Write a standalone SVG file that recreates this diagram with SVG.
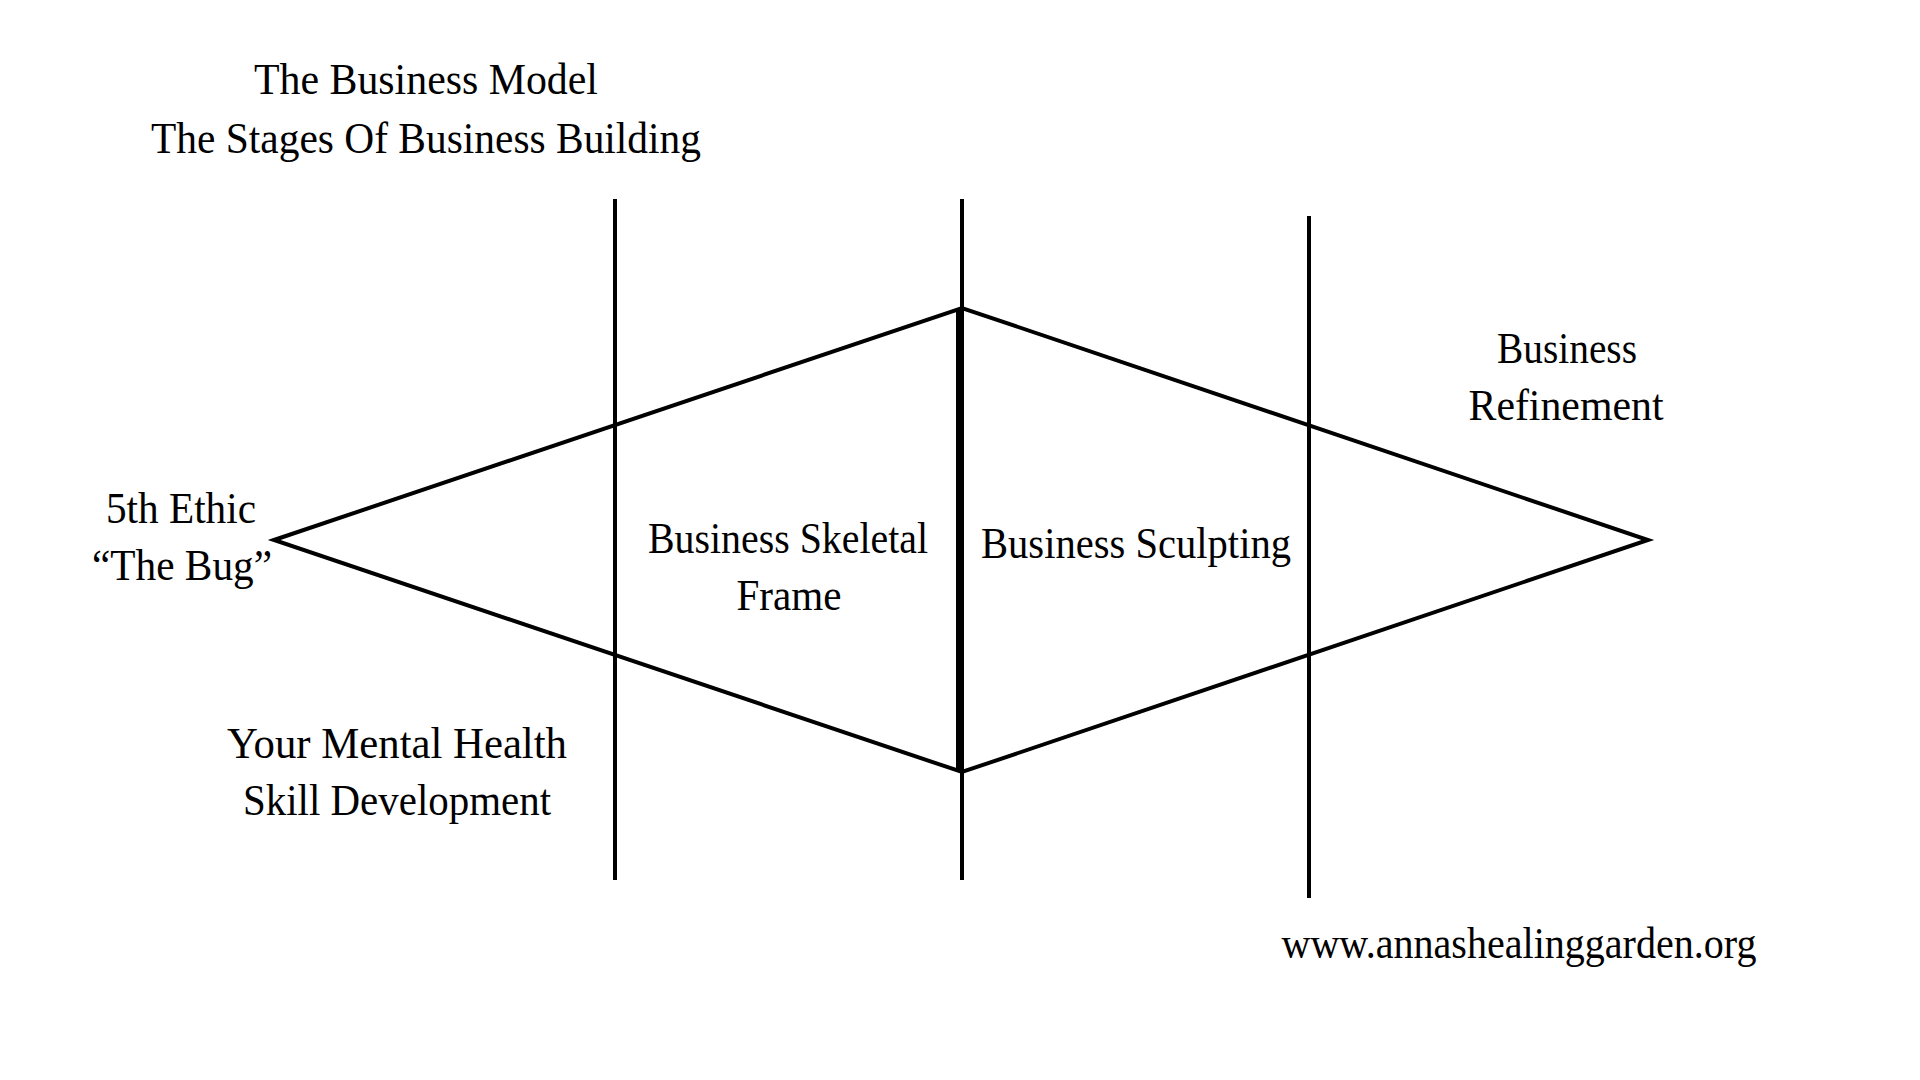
<svg xmlns="http://www.w3.org/2000/svg" width="1920" height="1080" viewBox="0 0 1920 1080">
<style>
  .t { font-family: "Liberation Serif", "DejaVu Serif", serif; font-size: 44px; fill: #000; text-anchor: middle; }
  .ln { stroke: #000; stroke-width: 4; fill: none; }
  .thick { stroke: #000; stroke-width: 8; fill: none; }
</style>
<rect x="0" y="0" width="1920" height="1080" fill="#fff"/>
<g id="connectors">
  <line class="ln" x1="615" y1="199" x2="615" y2="880"/>
  <line class="ln" x1="962" y1="199" x2="962" y2="880"/>
  <line class="ln" x1="1309" y1="216" x2="1309" y2="898"/>
  <polygon class="ln" points="274,540 962,308 1648,540 962,772" stroke-linejoin="miter"/>
  <line class="thick" x1="960" y1="308" x2="960" y2="772"/>
</g>
<g id="title">
  <text class="t" x="426" y="94" textLength="344" lengthAdjust="spacingAndGlyphs">The Business Model</text>
  <text class="t" x="426" y="153" textLength="550" lengthAdjust="spacingAndGlyphs">The Stages Of Business Building</text>
</g>
<g id="node-ethic">
  <text class="t" x="181" y="523" textLength="150" lengthAdjust="spacingAndGlyphs">5th Ethic</text>
  <text class="t" x="182" y="580" textLength="180" lengthAdjust="spacingAndGlyphs">“The Bug”</text>
</g>
<g id="node-skeletal">
  <text class="t" x="788" y="553" textLength="280" lengthAdjust="spacingAndGlyphs">Business Skeletal</text>
  <text class="t" x="789" y="610" textLength="105" lengthAdjust="spacingAndGlyphs">Frame</text>
</g>
<g id="node-sculpting">
  <text class="t" x="1136" y="558" textLength="310" lengthAdjust="spacingAndGlyphs">Business Sculpting</text>
</g>
<g id="node-refinement">
  <text class="t" x="1567" y="363" textLength="140" lengthAdjust="spacingAndGlyphs">Business</text>
  <text class="t" x="1566" y="420" textLength="195" lengthAdjust="spacingAndGlyphs">Refinement</text>
</g>
<g id="node-mental">
  <text class="t" x="397" y="758" textLength="340" lengthAdjust="spacingAndGlyphs">Your Mental Health</text>
  <text class="t" x="397" y="815" textLength="308" lengthAdjust="spacingAndGlyphs">Skill Development</text>
</g>
<g id="node-url">
  <text class="t" x="1519" y="958" textLength="475" lengthAdjust="spacingAndGlyphs">www.annashealinggarden.org</text>
</g>
</svg>
